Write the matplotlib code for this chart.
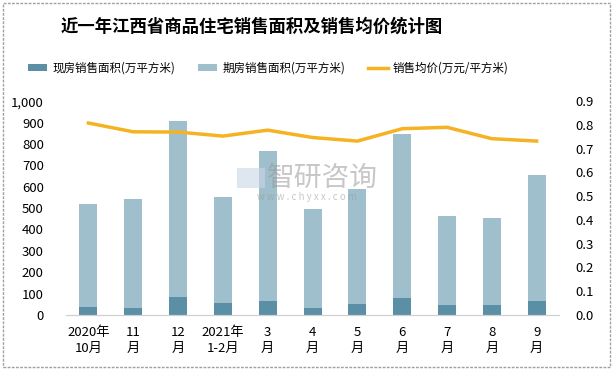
#!/usr/bin/env python3
"""近一年江西省商品住宅销售面积及销售均价统计图"""

import numpy as np
import matplotlib.pyplot as plt
from matplotlib import rcParams
from matplotlib.patches import Rectangle

rcParams['font.family'] = ['Noto Sans CJK SC', 'DejaVu Sans']
rcParams['axes.unicode_minus'] = False

# Data
months = ['2020年\n10月', '11\n月', '12\n月', '2021年\n1-2月', '3\n月', '4\n月',
          '5\n月', '6\n月', '7\n月', '8\n月', '9\n月']
spot_area = [37, 33, 84, 56, 66, 33, 52, 80, 47, 47, 66]          # 现房
total_area = [520, 544, 905, 553, 769, 497, 591, 848, 464, 455, 656]
presale_area = [t - s for t, s in zip(total_area, spot_area)]     # 期房
avg_price = [0.808, 0.771, 0.770, 0.753, 0.778, 0.747, 0.732, 0.784, 0.790, 0.742, 0.732]

c_spot = '#5b8fa6'
c_pre = '#a0bfcc'
c_line = '#f5b324'

fig = plt.figure(figsize=(6.13, 3.70), dpi=100)
ax = fig.add_axes([0.1077, 0.1486, 0.8043, 0.578])
ax2 = ax.twinx()

x = np.arange(len(months))
ax.bar(x, spot_area, width=0.4, color=c_spot, label='现房销售面积(万平方米)', zorder=2)
ax.bar(x, presale_area, width=0.4, bottom=spot_area, color=c_pre,
       label='期房销售面积(万平方米)', zorder=2)
ax2.plot(x, avg_price, color=c_line, linewidth=2.5, label='销售均价(万元/平方米)')

ax.set_xlim(-0.5, len(months) - 0.5)
ax.set_ylim(0, 1000)
ax.set_yticks(range(0, 1001, 100))
ax.set_yticklabels([f'{v:,}' for v in range(0, 1001, 100)])
ax2.set_ylim(0, 0.9)
ax2.set_yticks(np.arange(0, 0.91, 0.1))
ax2.set_yticklabels([f'{v:.1f}' for v in np.arange(0, 0.91, 0.1)])

ax.set_xticks(x)
ax.set_xticklabels(months, fontsize=9.5, linespacing=1.3)

for a in (ax, ax2):
    for s in ('top', 'left', 'right'):
        a.spines[s].set_visible(False)
    a.spines['bottom'].set_color('#d0d0d0')
    a.tick_params(length=0, labelsize=9.5)
ax.tick_params(axis='y', pad=16)
ax2.tick_params(axis='y', pad=12)
ax.tick_params(axis='x', pad=8)

# Title
fig.text(0.41, 0.927, '近一年江西省商品住宅销售面积及销售均价统计图',
         ha='center', va='center', fontsize=12.5, fontweight='bold')

# Legend
h1, l1 = ax.get_legend_handles_labels()
h2, l2 = ax2.get_legend_handles_labels()
fig.legend(h1 + h2, l1 + l2, loc='center', bbox_to_anchor=(0.437, 0.816), ncol=3,
           frameon=False, fontsize=8.3, handlelength=1.7, handleheight=0.6,
           columnspacing=2.0, handletextpad=0.4)

# Watermark
fig.patches.append(Rectangle((0.387, 0.492), 0.046, 0.054, transform=fig.transFigure,
                             facecolor='#c9d6e6', edgecolor='none', alpha=0.6, zorder=10))
fig.text(0.526, 0.519, '智研咨询', ha='center', va='center', fontsize=20,
         color='#9a9a9a', alpha=0.55, zorder=10)
fig.text(0.5, 0.467, 'w w w . c h y x x . c o m', ha='center', va='center',
         fontsize=7, color='#9a9a9a', alpha=0.55, zorder=10)

# Outer border
fig.patches.append(Rectangle((0.005, 0.008), 0.99, 0.984, transform=fig.transFigure,
                             fill=False, edgecolor='#a0a0a0', linewidth=1.0,
                             linestyle=(0, (2, 1))))

plt.savefig('out.png', dpi=100)
